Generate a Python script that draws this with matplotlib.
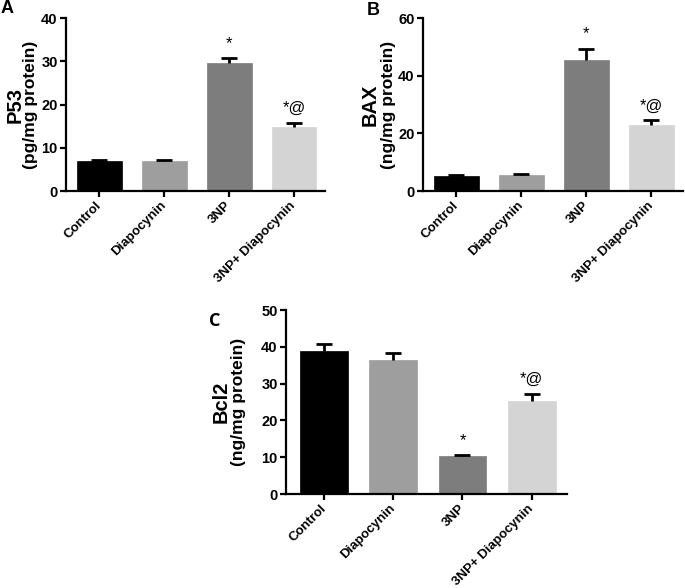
import matplotlib
matplotlib.use("Agg")
import matplotlib.pyplot as plt

plt.rcParams['font.family'] = ['Liberation Sans', 'DejaVu Sans']
plt.rcParams['font.weight'] = 'bold'

groups = ["Control", "Diapocynin", "3NP", "3NP+ Diapocynin"]
colors = ["#000000", "#9e9e9e", "#7d7d7d", "#d4d4d4"]

p53_mean = [6.9, 7.0, 29.5, 14.8]
p53_err = [0.2, 0.2, 1.3, 1.0]
p53_sig = ["", "", "*", "*@"]

bax_mean = [5.2, 5.6, 45.5, 23.0]
bax_err = [0.3, 0.3, 3.9, 1.5]
bax_sig = ["", "", "*", "*@"]

bcl2_mean = [38.9, 36.5, 10.4, 25.4]
bcl2_err = [1.9, 1.7, 0.2, 1.8]
bcl2_sig = ["", "", "*", "*@"]

W, H = 685, 588
fig = plt.figure(figsize=(W / 100, H / 100), dpi=100)


def px_axes(l, r, t, b):
    return fig.add_axes([l / W, 1 - b / H, (r - l) / W, (b - t) / H])


def panel(ax, means, errs, sigs, ymax, ystep, xlim, title, unit, lab_px, letter,
          letter_xy, letter_font, sig_off):
    x = list(range(len(groups)))
    ax.bar(x, means, width=0.69, color=colors, edgecolor=colors, linewidth=0.5, zorder=2)
    _, caps, _ = ax.errorbar(x, means, yerr=[[0] * len(errs), errs], fmt='none',
                             ecolor='black', elinewidth=2, capsize=5.5, capthick=2,
                             zorder=3)
    caps[0].set_visible(False)
    for xi, m, e, s in zip(x, means, errs, sigs):
        if s:
            ax.annotate(s, (xi, m + e), xytext=(0, sig_off), textcoords='offset points',
                        ha='center', va='bottom', fontsize=12, fontweight='normal')
    ax.set_xlim(*xlim)
    ax.set_ylim(0, ymax)
    ax.set_yticks(range(0, ymax + 1, ystep))
    ax.set_xticks(x)
    ax.set_xticklabels(groups, rotation=45, ha='right', va='center',
                       rotation_mode='anchor', fontsize=9.5, fontweight='bold')
    for lab in ax.get_yticklabels():
        lab.set_fontsize(10.5)
        lab.set_fontweight('bold')
    for side in ('top', 'right'):
        ax.spines[side].set_visible(False)
    for side in ('left', 'bottom'):
        ax.spines[side].set_linewidth(1.6)
    ax.tick_params(axis='both', width=1.6, length=4, pad=2)
    ax.tick_params(axis='x', pad=5)
    wpx = ax.get_position().width * W
    ax.text(lab_px[0] / wpx, 0.5, title, transform=ax.transAxes, rotation=90,
            ha='center', va='center', fontsize=14.5, fontweight='bold')
    ax.text(lab_px[1] / wpx, 0.5, unit, transform=ax.transAxes, rotation=90,
            ha='center', va='center', fontsize=12.5, fontweight='bold')
    fig.text(letter_xy[0] / W, 1 - letter_xy[1] / H, letter, ha='left', va='top',
             fontsize=13, fontweight='bold', family=letter_font)


axA = px_axes(66, 325, 18, 191)
panel(axA, p53_mean, p53_err, p53_sig, 40, 10, (-0.515, 3.477), "P53",
      "(pg/mg protein)", (-51, -35), "A", (1, 0), ['Liberation Sans', 'DejaVu Sans'], 5)

axB = px_axes(423, 683, 18, 191)
panel(axB, bax_mean, bax_err, bax_sig, 60, 20, (-0.515, 3.485), "BAX",
      "(ng/mg protein)", (-53, -35), "B", (367, 2), ['Liberation Sans', 'DejaVu Sans'], 5)

axC = px_axes(286, 567, 310, 494)
panel(axC, bcl2_mean, bcl2_err, bcl2_sig, 50, 10, (-0.55, 3.51), "Bcl2",
      "(ng/mg protein)", (-65, -48), "C", (209, 312), ['Open Sans', 'DejaVu Sans'], 5)

fig.savefig("out.png", dpi=100)
